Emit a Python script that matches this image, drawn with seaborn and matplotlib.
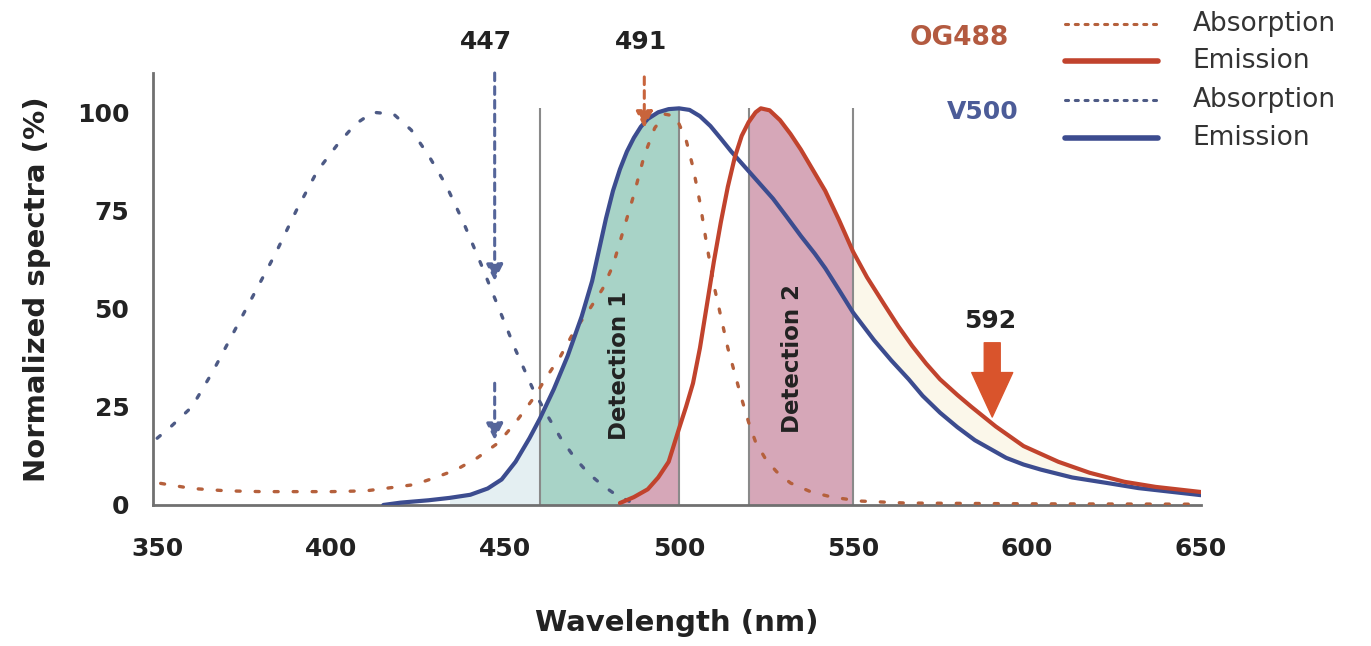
import numpy as np
import seaborn as sns
import matplotlib.pyplot as plt
from matplotlib.lines import Line2D

# spectra: wavelength (nm) / normalized intensity (%)
v500_abs_nm = [350, 354, 360, 366, 372, 378, 384, 390, 396, 402, 407, 412, 418, 423, 428,
               433, 438, 443, 448, 453, 458, 462, 466, 470, 474, 478, 482, 486]
v500_abs = [17, 20, 25, 34, 44, 54, 64, 75, 85, 92, 97, 100, 99.5, 95.5, 89,
            81.5, 72, 61.5, 50.5, 39.5, 29.5, 23, 17, 12, 8, 5, 2.5, 0.8]

og_abs_nm = [351, 360, 370, 380, 390, 400, 410, 418, 424, 430, 436, 442, 448, 453, 458,
             462, 466, 470, 474, 478, 481, 484, 487, 490, 493, 496, 499, 502, 504, 506,
             508, 510, 512, 514, 516, 518, 520, 522, 525, 528, 532, 538, 544, 552, 565, 600, 650]
og_abs = [5.5, 4.2, 3.6, 3.4, 3.4, 3.4, 3.6, 4.5, 5.2, 7, 9, 12, 15.8, 21, 27,
          32.7, 38, 44.5, 49.5, 55, 61, 70, 79, 89, 96, 99.5, 99, 93, 86, 77,
          66, 56, 48, 40, 33.5, 27, 21, 16, 11.5, 8.5, 5.6, 3.3, 2, 1, 0.5, 0.3, 0.2]

v500_em_nm = [415, 420, 428, 434, 440, 445, 449, 453, 457, 460, 464, 468, 472, 475, 477,
              479, 481, 483, 485, 487, 489, 491, 494, 497, 500, 503, 506, 509, 512, 515,
              520, 524, 527, 531, 535, 539, 542, 546, 550, 556, 561, 566, 570, 575, 580,
              585, 590, 594, 599, 604, 613, 623, 632, 642, 650]
v500_em = [0, 0.6, 1.2, 1.8, 2.6, 4.2, 6.5, 11, 17, 22, 29.5, 38, 48, 57, 65,
           73, 80, 85.5, 90, 93.5, 96.3, 98.3, 100, 100.8, 101, 100.6, 99, 96.5, 93.3, 90,
           85, 81, 78, 73.3, 68.5, 64, 60.3, 54.7, 49, 42, 36.8, 32, 27.8, 23.5, 19.8,
           16.5, 14, 12, 10.3, 9, 7, 5.6, 4.3, 3.3, 2.5]

og_em_nm = [483, 487, 491, 494, 497, 500, 502, 504, 506, 508, 510, 512, 514, 516, 518,
            520, 522, 523.5, 526, 529, 532, 535, 538, 542, 546, 550, 554, 559, 563, 567,
            571, 575, 580, 584, 591, 599, 609, 618, 628, 637, 650]
og_em = [0.5, 2, 4, 7, 11, 19.5, 25, 31, 40, 51, 62, 72, 81, 88.5, 94,
         97.5, 100, 101, 100.5, 98, 94.5, 90.5, 86, 80, 72.5, 64.5, 58, 51, 45.5, 40.5,
         36, 32, 28, 25, 20, 15, 11, 8.2, 5.9, 4.6, 3.3]

detection_1 = (460, 500)
detection_2 = (520, 550)
excitations = [447, 491, 592]

BLUE = "#3c4c8f"
RED = "#c1432d"
BLUE_DOT = "#4d5a85"
RED_DOT = "#b5603c"
GREY = "#707070"

sns.set_theme(style="white")
plt.rcParams['font.family'] = ['DejaVu Sans']

fig = plt.figure(figsize=(13.71, 6.46), dpi=100)
ax = fig.add_axes([0.1116, 0.2183, 0.7644, 0.6687])

vx, vy = np.array(v500_em_nm), np.array(v500_em)
ox, oy = np.array(og_em_nm), np.array(og_em)

# shaded detection windows
m = (vx >= 430) & (vx <= detection_1[0])
ax.fill_between(vx[m], vy[m], color="#e4eff2", lw=0, zorder=1)
m = (vx >= detection_1[0]) & (vx <= detection_1[1])
ax.fill_between(vx[m], vy[m], color="#a8d3c7", lw=0, zorder=1)
m = ox <= detection_1[1]
ax.fill_between(ox[m], oy[m], color="#d6a7b8", lw=0, zorder=1.1)
m = (ox >= detection_2[0]) & (ox <= detection_2[1])
ax.fill_between(ox[m], oy[m], color="#d6a7b8", lw=0, zorder=1)
# pale band between the two emissions
m = (ox >= 550) & (ox <= 620)
ax.fill_between(ox[m], oy[m], np.interp(ox[m], vx, vy), color="#fbf7ea", lw=0, zorder=1)

ax.vlines([detection_1[0], detection_1[1], detection_2[0], detection_2[1]], 0, 101,
          color="#8a8a8a", lw=1.5, zorder=2)

dot = dict(dash_capstyle="round", lw=2.4, zorder=3)
sns.lineplot(x=v500_abs_nm, y=v500_abs, ax=ax, color=BLUE_DOT, linestyle=(0, (1.2, 4.5)), sort=False, **dot)
sns.lineplot(x=og_abs_nm, y=og_abs, ax=ax, color=RED_DOT, linestyle=(0, (1.2, 4.5)), sort=False, **dot)
sns.lineplot(x=v500_em_nm, y=v500_em, ax=ax, color=BLUE, lw=3, sort=False, zorder=4)
sns.lineplot(x=og_em_nm, y=og_em, ax=ax, color=RED, lw=3, sort=False, zorder=4)

# excitation arrows
dashed = dict(arrowstyle="-|>,head_length=0.5,head_width=0.25", lw=2.2,
              linestyle=(0, (2.5, 2)), shrinkA=0, shrinkB=0, mutation_scale=20)
ax.annotate("", xy=(excitations[0], 57), xytext=(excitations[0], 110),
            arrowprops=dict(color="#55659a", **dashed), annotation_clip=False, zorder=5)
ax.annotate("", xy=(excitations[0], 16.5), xytext=(excitations[0], 31),
            arrowprops=dict(color="#55659a", **dashed), annotation_clip=False, zorder=5)
ax.annotate("", xy=(excitations[1] - 1, 96), xytext=(excitations[1] - 1, 109),
            arrowprops=dict(color="#c8643c", **dashed), annotation_clip=False, zorder=5)
ax.annotate("", xy=(excitations[2] - 2, 22.4), xytext=(excitations[2] - 2, 41.3),
            arrowprops=dict(arrowstyle="simple,head_length=3.2,head_width=2.95,tail_width=1.15",
                            color="#d9542c", shrinkA=0, shrinkB=0, mutation_scale=10), zorder=5)

lab = dict(fontsize=18, fontweight="bold", color="#222222", ha="center", va="center")
ax.text(444.5, 118, str(excitations[0]), clip_on=False, **lab)
ax.text(489, 118, str(excitations[1]), clip_on=False, **lab)
ax.text(589.4, 46.8, str(excitations[2]), **lab)
ax.text(482.8, 35.5, "Detection 1", rotation=90, fontsize=16.5, fontweight="bold",
        color="#222222", ha="center", va="center", zorder=6)
ax.text(532.6, 37.2, "Detection 2", rotation=90, fontsize=16.5, fontweight="bold",
        color="#222222", ha="center", va="center", zorder=6)

ax.set_xlim(348.8, 650)
ax.set_ylim(0, 110)
ax.set_xticks(range(350, 651, 50))
ax.set_yticks([0, 25, 50, 75, 100])
for s in ["top", "right"]:
    ax.spines[s].set_visible(False)
for s in ["left", "bottom"]:
    ax.spines[s].set_color(GREY)
    ax.spines[s].set_linewidth(2)
ax.tick_params(axis="both", direction="out", length=7, width=1.5, color=GREY,
               labelsize=18, labelcolor="#222222")
ax.tick_params(axis="x", pad=16)
ax.tick_params(axis="y", pad=10)
for t in ax.get_xticklabels() + ax.get_yticklabels():
    t.set_fontweight("bold")
ax.set_xlabel("Wavelength (nm)", fontsize=21, fontweight="bold", color="#222222")
ax.set_ylabel("Normalized spectra (%)", fontsize=21, fontweight="bold", color="#222222")
ax.xaxis.set_label_coords(0.5, -0.24)
ax.yaxis.set_label_coords(-0.097, 0.5)

# legend drawn in figure space
rows = [0.963, 0.906, 0.845, 0.786]
styles = [(RED_DOT, (0, (1, 2.2)), 2.2), (RED, "-", 4), (BLUE_DOT, (0, (1, 2.2)), 2.2), (BLUE, "-", 4)]
names = ["Absorption", "Emission", "Absorption", "Emission"]
for y, (c, ls, w), n in zip(rows, styles, names):
    fig.add_artist(Line2D([0.777, 0.845], [y, y], color=c, linestyle=ls, lw=w,
                          dash_capstyle="round", transform=fig.transFigure))
    fig.text(0.870, y, n, fontsize=19, color="#333333", va="center", ha="left")
fig.text(0.700, 0.941, "OG488", fontsize=19, fontweight="bold", color="#b35a40", ha="center", va="center")
fig.text(0.717, 0.827, "V500", fontsize=18, fontweight="bold", color="#4c5c98", ha="center", va="center")

fig.savefig("out.png", dpi=100)
